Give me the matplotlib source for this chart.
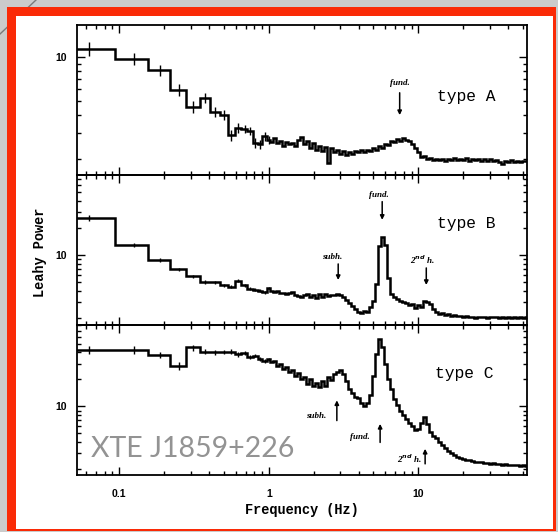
import numpy as np
import matplotlib
matplotlib.use("Agg")
import matplotlib.pyplot as plt
from matplotlib.patches import Rectangle
from matplotlib.lines import Line2D
from matplotlib.ticker import LogLocator, NullFormatter, FuncFormatter

plt.rcParams["font.family"] = ["Liberation Sans", "DejaVu Sans"]
plt.rcParams["font.weight"] = "bold"

# Frequency bins: 1/16 Hz resolution up to 1 Hz, then logarithmic bins of 0.02 dex
freq_lin = np.arange(1, 17) / 16.0
freq_log = 10 ** (0.02 * np.arange(1, 87))
freq = np.concatenate([freq_lin, freq_log])

# Leahy-normalised power spectra for the three QPO types
power_a = [11.4, 9.75, 8.1, 5.95, 4.55, 5.25, 4.2, 4.0, 2.9, 3.25, 3.2, 3.1, 2.55, 2.5, 2.85, 2.7,
           2.6, 2.75, 2.55, 2.65, 2.45, 2.6, 2.5, 2.55, 2.45, 2.7,
           2.8, 2.5, 2.65, 2.35, 2.55, 2.3, 2.45, 2.25, 2.4, 1.85,
           2.35, 2.2, 2.3, 2.15, 2.25, 2.1, 2.2, 2.15, 2.25, 2.2,
           2.28, 2.22, 2.3, 2.25, 2.35, 2.3, 2.42, 2.38, 2.52, 2.48,
           2.62, 2.58, 2.72, 2.62, 2.78, 2.68, 2.62, 2.5, 2.35, 2.2,
           2.05, 2.08, 1.98, 2.03, 1.95, 2.0, 1.94, 1.99, 1.93, 2.0,
           1.95, 2.01, 1.94, 1.98, 1.96, 2.01, 1.93, 1.98, 1.94, 1.99,
           1.92, 1.97, 1.93, 1.98, 1.91, 1.95, 1.88, 1.83, 1.92, 1.9,
           1.94, 1.89, 1.93, 1.9, 1.92, 1.91]
power_b = [26.0, 13.0, 8.75, 6.9, 5.8, 5.0, 5.0, 4.6, 4.45, 5.15, 4.6, 4.2, 4.1, 4.0, 3.85, 4.3,
           4.0, 3.85, 3.95, 3.75, 3.8, 3.65, 3.75, 3.9, 3.6, 3.5,
           3.4, 3.55, 3.65, 3.45, 3.6, 3.35, 3.65, 3.4, 3.7, 3.5,
           3.6, 3.55, 3.65, 3.6, 3.4, 3.15, 2.95, 2.7, 2.5, 2.35,
           2.25, 2.4, 2.3, 2.65, 3.1, 4.8, 12.5, 16.0, 12.8, 5.6,
           3.7, 3.4, 3.25, 3.1, 3.0, 2.9, 2.75, 2.85, 2.6, 2.75,
           2.65, 3.05, 3.0, 2.85, 2.5, 2.3, 2.2, 2.25, 2.15, 2.2,
           2.12, 2.18, 2.1, 2.08, 2.04, 2.08, 2.03, 2.06, 2.02, 2.07,
           2.03, 2.05, 2.01, 2.06, 2.03, 2.05, 2.0, 2.04, 2.02, 2.06,
           2.01, 2.03, 2.0, 2.04, 2.02, 2.03]
power_c = [43.0, 42.5, 37.5, 28.5, 45.5, 41.0, 40.0, 40.5, 41.0, 38.0, 39.5, 36.0, 37.0, 34.0, 32.5, 33.5,
           31.0, 32.0, 28.5, 29.5, 26.5, 27.5, 24.5, 25.5, 22.0, 23.5,
           20.0, 21.5, 18.0, 20.5, 17.0, 18.5, 16.5, 19.0, 16.8, 21.5,
           19.5, 23.0, 24.5, 25.5, 23.0, 19.0, 15.5, 14.0, 12.8, 12.3,
           11.0, 10.0, 10.8, 13.5, 22.0, 38.0, 56.0, 46.0, 30.0, 20.0,
           15.5, 12.0, 10.3, 9.0, 8.0, 7.3, 6.5, 6.0, 5.5, 5.6,
           6.6, 7.6, 6.4, 5.2, 4.7, 4.4, 4.0, 3.7, 3.4, 3.2,
           3.0, 2.9, 2.75, 2.65, 2.6, 2.5, 2.52, 2.45, 2.42, 2.38,
           2.4, 2.33, 2.35, 2.3, 2.32, 2.28, 2.3, 2.24, 2.26, 2.22,
           2.25, 2.2, 2.22, 2.18, 2.2, 2.18]

# 1-sigma errors on the 1/16 Hz bins
err_a = [1.2, 0.9, 0.7, 0.6, 0.45, 0.42, 0.36, 0.32, 0.26, 0.25, 0.22, 0.2, 0.2, 0.18, 0.2, 0.18]
err_b = [2.0, 0.65, 0.4, 0.3, 0.25, 0.22, 0.2, 0.2, 0.18, 0.2, 0.18, 0.16, 0.15, 0.15, 0.15, 0.15]
err_c = [4.5, 4.2, 3.0, 2.8, 3.5, 2.5, 2.4, 2.3, 2.2, 2.0, 2.0, 1.9, 1.8, 1.7, 1.6, 1.6]

panel_names = ["type A", "type B", "type C"]
panel_ylims = [(1.54, 16.6), (1.67, 77.0), (1.72, 81.0)]
xlim = (0.0517, 53.3)
source_name = "XTE J1859+226"

W, H = 558, 532
fig = plt.figure(figsize=(W / 100, H / 100), dpi=100, facecolor="#cbcbcb")


def fx(x):
    return x / W


def fy(y):
    return 1 - y / H


# slide frame
fig.add_artist(Line2D([0, fx(36)], [fy(34), fy(0)], color="#7a7a7a", lw=1.0, zorder=-20))
fig.add_artist(Rectangle((fx(7), fy(531)), fx(556) - fx(7), fy(7) - fy(531),
                         transform=fig.transFigure, facecolor="#fa2a06", edgecolor="none", zorder=-15))
fig.add_artist(Rectangle((fx(15.5), fy(529)), fx(553) - fx(15.5), fy(16) - fy(529),
                         transform=fig.transFigure, facecolor="white", edgecolor="none", zorder=-14))

left, right = 76.5, 527
tops = [25, 175, 325]
heights = [150, 150, 150]
powers = [power_a, power_b, power_c]
errs = [err_a, err_b, err_c]

edges = np.empty(len(freq) + 1)
edges[1:-1] = 0.5 * (freq[1:] + freq[:-1])
edges[0] = freq[0] - 0.5 * (freq[1] - freq[0])
edges[-1] = freq[-1] + 0.5 * (freq[-1] - freq[-2])

axes = []
for i in range(3):
    top = tops[i]
    ax = fig.add_axes([fx(left), fy(top + heights[i]), fx(right) - fx(left), heights[i] / H])
    ax.set_facecolor("none")
    ax.set_xscale("log")
    ax.set_yscale("log")
    ax.stairs(powers[i], edges, baseline=None, color="black", lw=1.8)
    ax.errorbar(freq[:16], powers[i][:16], yerr=errs[i], fmt="none", ecolor="black",
                elinewidth=1.0, capsize=0)
    ax.set_xlim(*xlim)
    ax.set_ylim(*panel_ylims[i])
    for s in ax.spines.values():
        s.set_linewidth(1.3)
    ax.tick_params(which="both", direction="in", top=True, right=True, width=1.0)
    ax.tick_params(which="major", length=6)
    ax.tick_params(which="minor", length=3)
    ax.tick_params(axis="y", which="major", labelsize=7.5, pad=7)
    ax.tick_params(axis="x", which="major", labelsize=7.5, pad=10)
    ax.yaxis.set_major_locator(LogLocator(base=10))
    ax.yaxis.set_minor_locator(LogLocator(base=10, subs=np.arange(2, 10)))
    ax.yaxis.set_major_formatter(FuncFormatter(lambda v, p: f"{v:g}"))
    ax.yaxis.set_minor_formatter(NullFormatter())
    ax.xaxis.set_major_formatter(FuncFormatter(lambda v, p: f"{v:g}"))
    ax.xaxis.set_minor_formatter(NullFormatter())
    if i < 2:
        ax.tick_params(axis="x", labelbottom=False)
    axes.append(ax)

label_font = dict(family="Liberation Serif", style="italic", weight="bold", fontsize=6.5)
type_font = dict(family="Liberation Mono", weight="normal", fontsize=11.7)
arrow = dict(arrowstyle="-|>", color="black", lw=1.1, mutation_scale=6, shrinkA=0, shrinkB=0)

# type A
ax = axes[0]
ax.text(20.8, 5.38, panel_names[0], ha="center", va="center", **type_font)
ax.text(7.47, 6.59, "fund.", ha="center", va="center", **label_font)
ax.annotate("", xy=(7.5, 3.98), xytext=(7.5, 5.67), arrowprops=arrow)

# type B
ax = axes[1]
ax.text(20.8, 22.5, panel_names[1], ha="center", va="center", **type_font)
ax.text(5.45, 46.4, "fund.", ha="center", va="center", **label_font)
ax.annotate("", xy=(5.73, 24.5), xytext=(5.73, 39.0), arrowprops=arrow)
ax.text(2.67, 9.5, "subh.", ha="center", va="center", **label_font)
ax.annotate("", xy=(2.91, 5.27), xytext=(2.91, 7.94), arrowprops=arrow)
ax.text(10.6, 8.8, r"2$^{nd}$ h.", ha="center", va="center", **label_font)
ax.annotate("", xy=(11.3, 4.64), xytext=(11.3, 7.17), arrowprops=arrow)

# type C
ax = axes[2]
ax.text(20.4, 23.5, panel_names[2], ha="center", va="center", **type_font)
ax.text(2.08, 7.92, "subh.", ha="center", va="center", **label_font)
ax.annotate("", xy=(2.85, 11.7), xytext=(2.85, 6.96), arrowprops=arrow)
ax.text(4.04, 4.52, "fund.", ha="center", va="center", **label_font)
ax.annotate("", xy=(5.55, 6.39), xytext=(5.55, 3.97), arrowprops=arrow)
ax.text(8.71, 2.58, r"2$^{nd}$ h.", ha="center", va="center", **label_font)
ax.annotate("", xy=(11.1, 3.37), xytext=(11.1, 2.29), arrowprops=arrow)

fig.text(fx(40), fy(252), "Leahy Power", rotation=90, ha="center", va="center",
         family="Liberation Mono", weight="bold", fontsize=9.8)
fig.text(fx(302), fy(510), "Frequency (Hz)", ha="center", va="center",
         family="Liberation Mono", weight="bold", fontsize=9.8)
fig.text(fx(91), fy(449), source_name, ha="left", va="center",
         family="Lato", weight="normal", fontsize=20.5, color="#939393")

fig.savefig("out.png", dpi=100, facecolor=fig.get_facecolor())
